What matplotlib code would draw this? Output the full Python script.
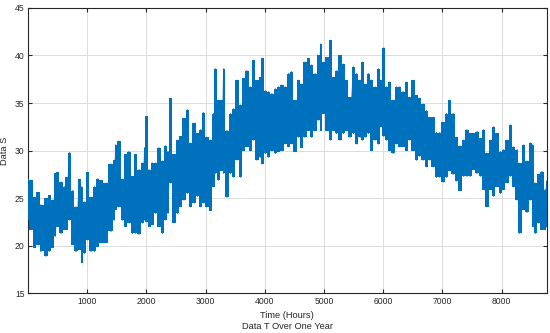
import matplotlib
matplotlib.use("Agg")
import matplotlib.pyplot as plt
import numpy as np

# Envelope of the hourly signal (hour, upper, lower)
hours = [0, 50, 107, 180, 220, 305, 360, 417, 462, 500, 557, 614, 642, 698, 755, 811, 867, 907, 952, 1008,
         1064, 1121, 1177, 1233, 1317, 1402, 1458, 1481, 1537, 1594, 1650, 1706, 1763, 1819, 1875, 1931, 1971,
         1999, 2044, 2100, 2157, 2213, 2270, 2326, 2365, 2410, 2466, 2523, 2579, 2635, 2692, 2748, 2804, 2861,
         2917, 2962, 3023, 3080, 3136, 3164, 3220, 3277, 3305, 3361, 3417, 3474, 3530, 3586, 3643, 3699, 3755,
         3812, 3868, 3924, 3952, 4009, 4065, 4121, 4178, 4234, 4290, 4347, 4403, 4454, 4510, 4567, 4623, 4679,
         4736, 4792, 4848, 4904, 4944, 4989, 5045, 5113, 5158, 5214, 5271, 5327, 5383, 5439, 5496, 5552, 5608,
         5648, 5693, 5749, 5805, 5862, 5918, 5960, 6010, 6053, 6109, 6166, 6222, 6278, 6335, 6391, 6447, 6504,
         6560, 6616, 6673, 6729, 6785, 6842, 6898, 6954, 7011, 7067, 7112, 7180, 7236, 7293, 7359, 7415, 7472,
         7528, 7584, 7641, 7697, 7753, 7810, 7866, 7922, 7979, 8035, 8091, 8147, 8204, 8260, 8305, 8372, 8429,
         8485, 8524, 8570, 8626, 8683, 8739, 8760]
upper = [27.0, 26.9, 25.1, 25.6, 24.3, 25.0, 25.3, 24.8, 27.6, 27.7, 26.7, 26.2, 27.2, 29.8, 25.8, 24.1, 27.0, 26.2, 24.6, 27.7,
         25.1, 26.2, 27.05, 26.9, 26.6, 28.6, 29.0, 30.6, 31.0, 27.0, 29.6, 29.9, 27.3, 29.6, 28.0, 28.7, 30.3,
         33.6, 28.0, 28.7, 28.7, 30.3, 28.9, 30.5, 29.9, 35.5, 29.6, 31.1, 31.5, 33.4, 34.3, 30.8, 32.9, 31.8,
         32.2, 34.0, 31.4, 31.1, 33.9, 38.6, 35.3, 35.3, 38.6, 32.1, 33.9, 34.4, 37.4, 34.8, 37.6, 38.4, 36.7,
         39.5, 37.4, 37.7, 39.7, 36.3, 36.2, 36.0, 36.5, 36.7, 36.9, 36.7, 38.1, 38.3, 35.3, 37.4, 37.0, 39.3,
         39.7, 39.0, 38.1, 40.0, 41.2, 39.3, 39.8, 41.6, 37.7, 38.4, 40.0, 39.1, 37.4, 35.6, 38.8, 38.1, 37.4,
         39.3, 37.0, 38.1, 37.4, 36.7, 38.6, 37.4, 40.8, 36.7, 37.2, 35.3, 36.7, 36.7, 36.2, 37.2, 35.6, 37.4,
         35.8, 35.5, 34.9, 34.2, 33.5, 33.5, 31.9, 31.9, 33.0, 33.9, 35.3, 33.9, 31.4, 30.5, 31.1, 32.2, 31.8,
         31.8, 32.0, 31.3, 32.2, 29.7, 31.1, 32.5, 31.8, 29.9, 30.1, 31.1, 32.7, 30.4, 30.1, 28.7, 30.6, 28.9,
         30.8, 30.6, 26.6, 27.5, 27.8, 25.9, 26.8]
lower = [22.7, 21.7, 19.8, 20.1, 19.4, 18.9, 19.4, 19.8, 21.0, 22.0, 21.3, 21.7, 21.7, 22.7, 20.1, 19.4, 19.6, 18.2, 19.2, 20.6,
         19.4, 19.4, 19.9, 20.3, 20.3, 21.5, 22.7, 23.8, 24.1, 22.7, 22.0, 22.4, 21.3, 21.3, 21.2, 22.4, 22.7,
         22.5, 22.0, 22.2, 23.4, 22.0, 21.3, 22.7, 23.4, 26.6, 22.4, 23.4, 24.1, 24.8, 25.5, 24.1, 24.5, 25.2,
         24.1, 24.5, 24.1, 23.7, 26.2, 27.6, 26.9, 27.9, 27.6, 25.1, 27.6, 27.2, 29.0, 27.2, 30.0, 30.4, 30.0,
         31.1, 29.0, 29.3, 28.6, 29.7, 29.3, 30.0, 29.7, 29.9, 30.0, 30.7, 30.4, 30.7, 29.9, 31.4, 30.3, 31.4,
         32.1, 31.4, 32.1, 33.2, 32.1, 33.9, 32.1, 31.1, 32.1, 31.8, 31.1, 31.8, 32.1, 31.4, 31.8, 30.7, 31.4,
         31.1, 31.4, 31.8, 30.0, 31.1, 30.7, 32.5, 31.5, 31.1, 30.0, 29.7, 30.7, 30.4, 30.4, 30.0, 31.1, 30.0,
         29.0, 29.4, 29.0, 28.3, 29.0, 28.3, 27.2, 27.2, 26.7, 27.2, 27.9, 27.5, 26.8, 25.8, 27.3, 27.3, 27.3,
         28.0, 27.6, 27.3, 25.9, 24.1, 25.9, 25.2, 26.2, 25.5, 25.9, 26.6, 27.3, 26.2, 24.8, 21.3, 23.8, 23.5,
         24.8, 22.0, 21.3, 22.4, 21.7, 21.7, 22.0]

x_ticks = [1000, 2000, 3000, 4000, 5000, 6000, 7000, 8000]
y_ticks = [15, 20, 25, 30, 35, 40, 45]

plt.rcParams['font.family'] = ['Liberation Sans', 'DejaVu Sans']
color = '#0072BD'

fig = plt.figure(figsize=(5.5, 3.33), dpi=100)
ax = fig.add_axes([0.0509, 0.1192, 0.943, 0.857])

h = np.asarray(hours, dtype=float)
up = np.asarray(upper)
lo = np.asarray(lower)
ax.fill_between(h, lo, up, color=color, lw=0, zorder=2, step='mid')
ax.vlines(h, lo, up, color=color, lw=1.4, zorder=3)
zx = np.repeat(h, 2)
zy = np.column_stack([up, lo]).ravel()
ax.plot(zx, zy, color=color, lw=0.8, zorder=3)

ax.set_xlim(0, 8760)
ax.set_ylim(15, 45)
ax.set_xticks(x_ticks)
ax.set_yticks(y_ticks)
ax.grid(True, color='#dcdcdc', lw=0.7, zorder=0)
ax.set_axisbelow(True)
ax.tick_params(direction='in', top=True, right=True, length=3, width=0.8,
               labelsize=6.2, colors='#262626', pad=3)
ax.tick_params(axis='y', pad=2.5)
for s in ax.spines.values():
    s.set_color('#262626')
    s.set_linewidth(0.8)
ax.set_ylabel('Data S', fontsize=6.7, color='#262626', labelpad=4)
ax.set_xlabel('Time (Hours)\nData T Over One Year', fontsize=6.7, color='#262626',
              labelpad=3, linespacing=1.35)

fig.savefig('out.png', dpi=100)
